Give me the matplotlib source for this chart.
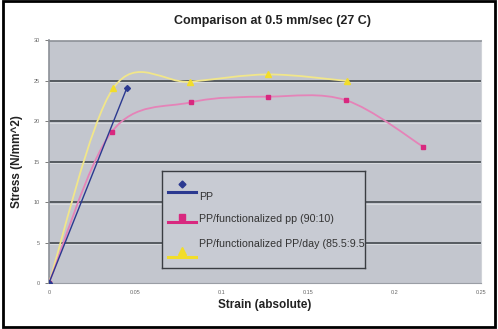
import numpy as np
import matplotlib
matplotlib.use("Agg")
import matplotlib.pyplot as plt
from matplotlib.path import Path
from matplotlib.patches import PathPatch, Rectangle
from matplotlib.lines import Line2D

# data
pp_strain = [0.0, 0.045]
pp_stress = [0.0, 24.1]

fpp_strain = [0.0, 0.0363, 0.082, 0.127, 0.172, 0.2166]
fpp_stress = [0.0, 18.7, 22.35, 23.05, 22.6, 16.85]

day_strain = [0.0, 0.0372, 0.0816, 0.127, 0.1723]
day_stress = [0.0, 24.1, 24.9, 25.8, 25.0]

labels = ["PP", "PP/functionalized pp (90:10)", "PP/functionalized PP/day (85.5:9.5"]
x_ticks = [0, 0.05, 0.1, 0.15, 0.2, 0.25]
y_ticks = [0, 5, 10, 15, 20, 25, 30]

BLUE = "#2b3990"
PINK_LINE = "#e583b8"
PINK = "#d8287f"
YEL_LINE = "#f1e68a"
YEL = "#f2dd2a"

plt.rcParams["font.family"] = ["Liberation Sans", "DejaVu Sans"]


def smooth_path(xs, ys):
    # Excel-style smoothed line: Catmull-Rom segments as cubic Beziers
    pts = np.column_stack([xs, ys])
    n = len(pts)
    verts = [pts[0]]
    codes = [Path.MOVETO]
    for i in range(n - 1):
        p0 = pts[max(i - 1, 0)]
        p1 = pts[i]
        p2 = pts[i + 1]
        p3 = pts[min(i + 2, n - 1)]
        verts += [p1 + (p2 - p0) / 6, p2 - (p3 - p1) / 6, p2]
        codes += [Path.CURVE4] * 3
    return Path(verts, codes)


W, H = 498, 329
fig = plt.figure(figsize=(W / 100, H / 100), dpi=100)
fig.patch.set_facecolor("white")

ax = fig.add_axes([49 / W, (H - 283) / H, 432 / W, 242.5 / H])
ax.set_facecolor("#c3c6ce")
ax.set_xlim(0, 0.25)
ax.set_ylim(0, 30)
ax.set_xticks(x_ticks)
ax.set_xticklabels(["0", "0.05", "0.1", "0.15", "0.2", "0.25"])
ax.set_yticks(y_ticks)
ax.tick_params(labelsize=4, colors="#666666", length=3, width=0.6)
ax.tick_params(axis="x", length=0, pad=5)
for s in ["top", "left"]:
    ax.spines[s].set_color("#8c9097")
    ax.spines[s].set_linewidth(1.2)
ax.spines["bottom"].set_color("#9a9ea5")
ax.spines["right"].set_color("#d0d3d8")
for v in y_ticks[1:-1]:
    ax.axhline(v, color="#4d5258", lw=1.3, zorder=1)
    ax.axhline(v - 0.17, color="#dcdee2", lw=0.6, zorder=1)

ax.add_patch(PathPatch(smooth_path(day_strain, day_stress), fill=False,
                       edgecolor=YEL_LINE, lw=1.3, zorder=3))
ax.plot(day_strain, day_stress, ls="none", marker="^", ms=4, color=YEL, zorder=4)

ax.add_patch(PathPatch(smooth_path(fpp_strain, fpp_stress), fill=False,
                       edgecolor=PINK_LINE, lw=1.3, zorder=3))
ax.plot(fpp_strain, fpp_stress, ls="none", marker="s", ms=3.5, color=PINK, zorder=4)

ax.plot(pp_strain, pp_stress, color=BLUE, lw=1.0, marker="D", ms=3,
        mfc=BLUE, zorder=5)

fig.text(272 / W, 1 - 21 / H, "Comparison at 0.5 mm/sec (27 C)", ha="center",
         va="center", fontsize=9, fontweight="bold", color="#222222")
ax.set_xlabel("Strain (absolute)", fontsize=8.5, fontweight="bold",
              color="#222222", labelpad=3)
ax.set_ylabel("Stress (N/mm^2)", fontsize=8.5, fontweight="bold",
              color="#222222", labelpad=8)

# legend box, drawn by hand so the long label is clipped like the original
lg = fig.add_axes([162 / W, (H - 268) / H, 203 / W, 97 / H])
lg.set_xlim(0, 203)
lg.set_ylim(97, 0)
lg.set_facecolor("#c8cbd3")
lg.set_xticks([])
lg.set_yticks([])
for s in lg.spines.values():
    s.set_color("#3a3d42")
    s.set_linewidth(1.0)

icons = [(BLUE, BLUE, "D", 3.5, 13.3, 20.6, 26.3),
         (PINK, PINK, "s", 5, 46.3, 51.3, 48.3),
         (YEL, YEL, "^", 6, 80.3, 86.3, 73.3)]
for (lc, mc, mk, ms, my, ly, ty), lab in zip(icons, labels):
    lg.add_line(Line2D([6, 34], [ly, ly], color=lc, lw=2.2))
    lg.add_line(Line2D([20], [my], marker=mk, ms=ms, color=mc, ls="none"))
    lg.text(37, ty, lab, fontsize=7.7, color="#333333", va="center",
            ha="left", clip_on=True)

# outer frame
fig.add_artist(Rectangle((3 / W, 2 / H), 492 / W, 326 / H, fill=False,
                         edgecolor="black", lw=2, transform=fig.transFigure))

fig.savefig("out.png", dpi=100)
